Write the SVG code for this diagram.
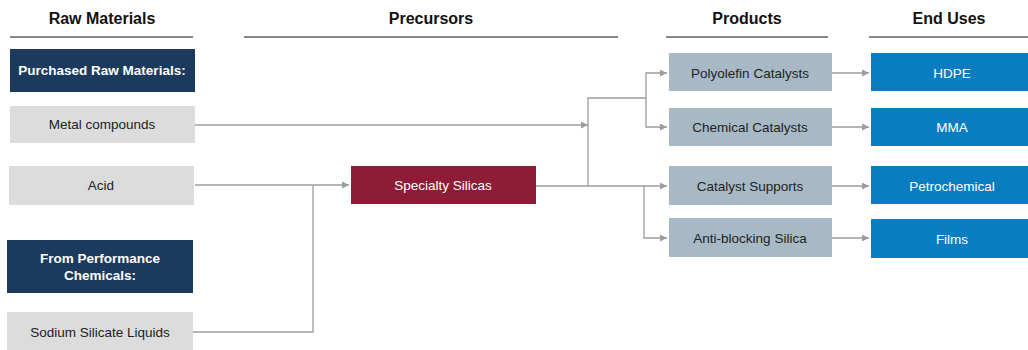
<svg xmlns="http://www.w3.org/2000/svg" width="1028" height="350" viewBox="0 0 1028 350">
<style>
.hd{font-family:"Liberation Sans",Arial,sans-serif;font-size:16px;font-weight:bold;fill:#111;text-anchor:middle}
.t{font-family:"Liberation Sans",Arial,sans-serif;font-size:13.5px;text-anchor:middle;dominant-baseline:central}
.dark{fill:#222}
.wb{fill:#fff;font-weight:bold}
.w{fill:#fff}
.rm{fill:#dcdcdc}
.nv{fill:#1b3a5e}
.pr{fill:#a8b9c6}
.eu{fill:#0a7dc1}
.ss{fill:#8e1c36}
.hl{stroke:#111;stroke-width:1.2}
.c{fill:none;stroke:#9c9c9c;stroke-width:1.3}
</style>
<defs>
<marker id="ar" viewBox="0 0 10 10" refX="10" refY="5" markerWidth="7" markerHeight="7" markerUnits="userSpaceOnUse" orient="auto">
<path d="M0,0 L10,5 L0,10 z" fill="#9c9c9c"/>
</marker>
</defs>
<rect width="1028" height="350" fill="#fff"/>
<g id="headers">
<text class="hd" x="102" y="24">Raw Materials</text>
<text class="hd" x="431" y="24">Precursors</text>
<text class="hd" x="747" y="24">Products</text>
<text class="hd" x="949" y="24">End Uses</text>
<line class="hl" x1="10" y1="37" x2="193" y2="37"/>
<line class="hl" x1="244" y1="37" x2="618" y2="37"/>
<line class="hl" x1="666" y1="37" x2="828" y2="37"/>
<line class="hl" x1="869" y1="37" x2="1028" y2="37"/>
</g>
<g id="connectors">
<path class="c" d="M195,125 H588" marker-end="url(#ar)"/>
<path class="c" d="M195,185 H349" marker-end="url(#ar)"/>
<path class="c" d="M193,332 H313 V185"/>
<path class="c" d="M536,186 H667" marker-end="url(#ar)"/>
<path class="c" d="M588,186 V98 H646"/>
<path class="c" d="M646,98 V73 H667" marker-end="url(#ar)"/>
<path class="c" d="M646,98 V127 H667" marker-end="url(#ar)"/>
<path class="c" d="M644,186 V238 H667" marker-end="url(#ar)"/>
<path class="c" d="M832,73 H869" marker-end="url(#ar)"/>
<path class="c" d="M832,127 H869" marker-end="url(#ar)"/>
<path class="c" d="M832,186 H869" marker-end="url(#ar)"/>
<path class="c" d="M832,238 H869" marker-end="url(#ar)"/>
</g>
<g id="purchased"><rect class="nv" x="10" y="49" width="185" height="43"/><text class="t wb" x="102" y="70.5" font-size="13.5">Purchased Raw Materials:</text></g>
<g id="metal"><rect class="rm" x="10" y="106" width="185" height="37"/><text class="t dark" x="102" y="124.5">Metal compounds</text></g>
<g id="acid"><rect class="rm" x="9" y="166" width="185" height="39"/><text class="t dark" x="101" y="185.5">Acid</text></g>
<g id="perf"><rect class="nv" x="7" y="240" width="186" height="53"/><text class="t wb" x="100" y="258">From Performance</text><text class="t wb" x="100" y="275">Chemicals:</text></g>
<g id="sodium"><rect class="rm" x="7" y="312" width="186" height="38"/><text class="t dark" x="100" y="332">Sodium Silicate Liquids</text></g>
<g id="specialty"><rect class="ss" x="351" y="166" width="185" height="38"/><text class="t w" x="443" y="185">Specialty Silicas</text></g>
<g id="polyolefin"><rect class="pr" x="669" y="53" width="163" height="38"/><text class="t dark" x="750" y="73">Polyolefin Catalysts</text></g>
<g id="chemical"><rect class="pr" x="669" y="108" width="163" height="38"/><text class="t dark" x="750" y="127">Chemical Catalysts</text></g>
<g id="supports"><rect class="pr" x="669" y="166" width="163" height="39"/><text class="t dark" x="750" y="186">Catalyst Supports</text></g>
<g id="antiblock"><rect class="pr" x="669" y="218" width="163" height="39"/><text class="t dark" x="750" y="238">Anti-blocking Silica</text></g>
<g id="hdpe"><rect class="eu" x="871" y="53" width="157" height="38"/><text class="t w" x="952" y="73">HDPE</text></g>
<g id="mma"><rect class="eu" x="871" y="108" width="157" height="38"/><text class="t w" x="952" y="127">MMA</text></g>
<g id="petro"><rect class="eu" x="871" y="166" width="157" height="38"/><text class="t w" x="952" y="186">Petrochemical</text></g>
<g id="films"><rect class="eu" x="871" y="219" width="157" height="39"/><text class="t w" x="952" y="239">Films</text></g>
</svg>
